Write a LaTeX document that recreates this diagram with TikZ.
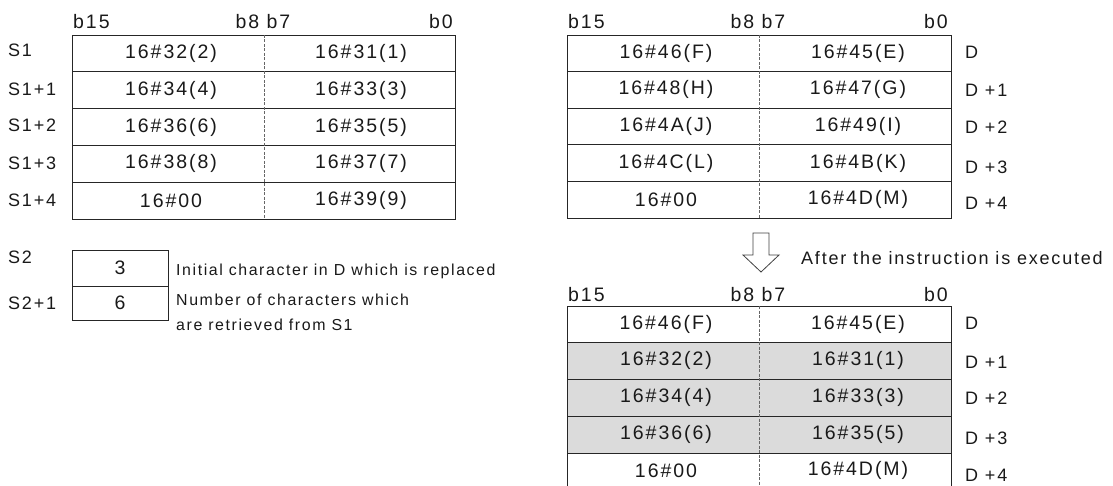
\documentclass[tikz,border=0pt]{standalone}
\usepackage{fontspec}
\setmainfont{Liberation Sans}[LetterSpace=10]

\begin{document}
\begin{tikzpicture}[x=1pt,y=-1pt,
  every node/.style={inner sep=0pt, text=black!90},
  frame/.style={line width=0.9pt, draw=black!85},
  half/.style={dash pattern=on 3pt off 1.5pt, black!60},
  cell/.style={font=\fontsize{19.5}{22}\selectfont},
  bit/.style={font=\fontsize{19.5}{22}\selectfont},
  lbl/.style={font=\fontsize{18}{21}\selectfont, anchor=west},
  note/.style={font=\fontsize{15.9}{18}\selectfont, anchor=west}]
\useasboundingbox (0,0) rectangle (1113,486);

% S1 table
\draw[frame] (72,35) rectangle (455,219);
\foreach \y in {71.8,108.6,145.4,182.2} \draw[frame] (72,\y) -- (455,\y);
\draw[half] (264,35) -- (264,219);
\node[bit, anchor=base west] (sA15) at (73,29) {b15};
\node[bit, anchor=base] (sA87) at (263,29) {b8 b7};
\node[bit, anchor=base east] (sA0) at (453,29) {b0};
\foreach \hi/\lo [count=\i] in {16\#32(2)/16\#31(1), 16\#34(4)/16\#33(3),
    16\#36(6)/16\#35(5), 16\#38(8)/16\#37(7), 16\#00/16\#39(9)} {
  \node[cell] (s\i h) at (171,{35+36.8*(\i-0.5)}) {\hi};
  \node[cell] (s\i l) at (361,{35+36.8*(\i-0.5)}) {\lo};
}
\foreach \t/\y [count=\i] in {S1/50, S1+1/89, S1+2/125, S1+3/163, S1+4/200}
  \node[lbl] (sl\i) at (8,\y) {\t};

% S2 words
\draw[frame] (72,250) rectangle (168,320);
\draw[frame] (72,286) -- (168,286);
\node[cell] (n1) at (120,268) {3};
\node[cell] (n2) at (120,303) {6};
\node[lbl] (nl1) at (8,257) {S2};
\node[lbl] (nl2) at (8,303) {S2+1};
\node[note] (c1) at (176,271) {Initial character in D which is replaced};
\node[note] (c2) at (176,300) {Number of characters which};
\node[note] (c3) at (176,325) {are retrieved from S1};

% D before
\draw[frame] (567,35) rectangle (951,218);
\foreach \y in {71.6,108.2,144.8,181.4} \draw[frame] (567,\y) -- (951,\y);
\draw[half] (759,35) -- (759,218);
\node[bit, anchor=base west] (dA15) at (568,29) {b15};
\node[bit, anchor=base] (dA87) at (758,29) {b8 b7};
\node[bit, anchor=base east] (dA0) at (948,29) {b0};
\foreach \hi/\lo [count=\i] in {16\#46(F)/16\#45(E), 16\#48(H)/16\#47(G),
    16\#4A(J)/16\#49(I), 16\#4C(L)/16\#4B(K), 16\#00/16\#4D(M)} {
  \node[cell] (d\i h) at (666,{35+36.6*(\i-0.5)}) {\hi};
  \node[cell] (d\i l) at (858,{35+36.6*(\i-0.5)}) {\lo};
}
\foreach \t/\y [count=\i] in {D/52, D +1/90, D +2/127, D +3/167, D +4/203}
  \node[lbl] (dl\i) at (965,\y) {\t};

% arrow
\draw[line width=0.8pt, draw=black!75, fill=white]
  (753,233) -- (769,233) -- (769,255) -- (779,255) -- (761,272)
  -- (743,255) -- (753,255) -- cycle;
\node[font=\fontsize{18}{21}\selectfont, anchor=west] (after) at (801,258)
  {After the instruction is executed};

% D after
\fill[black!14] (567,342.5) rectangle (951,453);
\draw[frame] (567,486) -- (567,306) -- (951,306) -- (951,486);
\foreach \y in {342.5,379,416,453} \draw[frame] (567,\y) -- (951,\y);
\draw[half] (759,306) -- (759,486);
\node[bit, anchor=base west] (eA15) at (568,301) {b15};
\node[bit, anchor=base] (eA87) at (758,301) {b8 b7};
\node[bit, anchor=base east] (eA0) at (948,301) {b0};
\foreach \hi/\lo [count=\i] in {16\#46(F)/16\#45(E), 16\#32(2)/16\#31(1),
    16\#34(4)/16\#33(3), 16\#36(6)/16\#35(5), 16\#00/16\#4D(M)} {
  \node[cell] (e\i h) at (666,{306+36.6*(\i-0.5)}) {\hi};
  \node[cell] (e\i l) at (858,{306+36.6*(\i-0.5)}) {\lo};
}
\foreach \t/\y [count=\i] in {D/323, D +1/362, D +2/398, D +3/438, D +4/475}
  \node[lbl] (el\i) at (965,\y) {\t};
\end{tikzpicture}
\end{document}
